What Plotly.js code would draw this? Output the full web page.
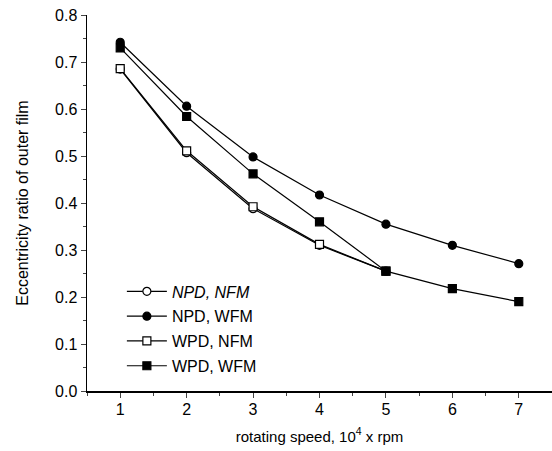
<!DOCTYPE html>
<html><head><meta charset="utf-8">
<script src="https://cdn.plot.ly/plotly-3.0.1.min.js"></script>
<style>body{margin:0;background:#fff}#c{width:552px;height:451px}</style>
</head><body><div id="c"></div>
<script>
const speed = [1, 2, 3, 4, 5, 6, 7];
const speedOpen = [1, 2, 3, 4, 5];
const npdNfm = [0.685, 0.507, 0.388, 0.310, 0.255];
const npdWfm = [0.742, 0.606, 0.498, 0.417, 0.355, 0.310, 0.271];
const wpdNfm = [0.686, 0.511, 0.392, 0.312, 0.255];
const wpdWfm = [0.730, 0.584, 0.462, 0.360, 0.255, 0.218, 0.190];
const names = ['<i>NPD, NFM</i>', 'NPD, WFM', 'WPD, NFM', 'WPD, WFM'];

function tr(x, y, name, sym, fill, g) {
  return {x: x, y: y, name: name, type: 'scatter', mode: 'lines+markers', legendgroup: g,
    line: {color: '#000', width: 1.2},
    marker: {symbol: sym, size: 8, color: fill, line: {color: '#000', width: 1.2}}};
}
const data = [
  tr(speedOpen, npdNfm, names[0], 'circle', '#fff', 'a'),
  tr(speed, npdWfm, names[1], 'circle', '#000', 'b'),
  tr(speedOpen, wpdNfm, names[2], 'square', '#fff', 'c'),
  tr(speed, wpdWfm, names[3], 'square', '#000', 'd')
];
const fam = 'Liberation Sans, Arial, sans-serif';
const font = {family: fam, size: 16, color: '#000'};
const layout = {
  width: 552, height: 451,
  margin: {l: 87, r: 0, t: 15, b: 60},
  paper_bgcolor: '#fff', plot_bgcolor: '#fff',
  font: font,
  showlegend: true,
  legend: {x: 0.075, y: 0.31, xanchor: 'left', yanchor: 'top', bgcolor: 'rgba(0,0,0,0)',
    font: {family: fam, size: 16, color: '#000'}, traceorder: 'grouped', tracegroupgap: 1, itemwidth: 40},
  xaxis: {range: [0.5, 7.5], tickvals: speed, ticks: 'outside', ticklen: 5, tickwidth: 1,
    ticklabelstandoff: -2,
    minor: {dtick: 0.5, ticks: 'outside', ticklen: 3, tickwidth: 1},
    showgrid: false, zeroline: false, showline: true, linewidth: 2, linecolor: '#000',
    title: {text: 'rotating speed, 10<sup>4</sup> x rpm', font: {family: fam, size: 15, color: '#000'}, standoff: 14},
    tickfont: font},
  yaxis: {range: [0, 0.8], dtick: 0.1, tickformat: '.1f', ticks: 'outside', ticklen: 5, tickwidth: 1,
    minor: {dtick: 0.05, ticks: 'outside', ticklen: 3, tickwidth: 1},
    showgrid: false, zeroline: false, showline: true, linewidth: 1.5, linecolor: '#000',
    title: {text: 'Eccentricity ratio of outer film', font: font, standoff: 22},
    tickfont: font}
};
Plotly.newPlot('c', data, layout, {staticPlot: true, displayModeBar: false});
</script></body></html>
